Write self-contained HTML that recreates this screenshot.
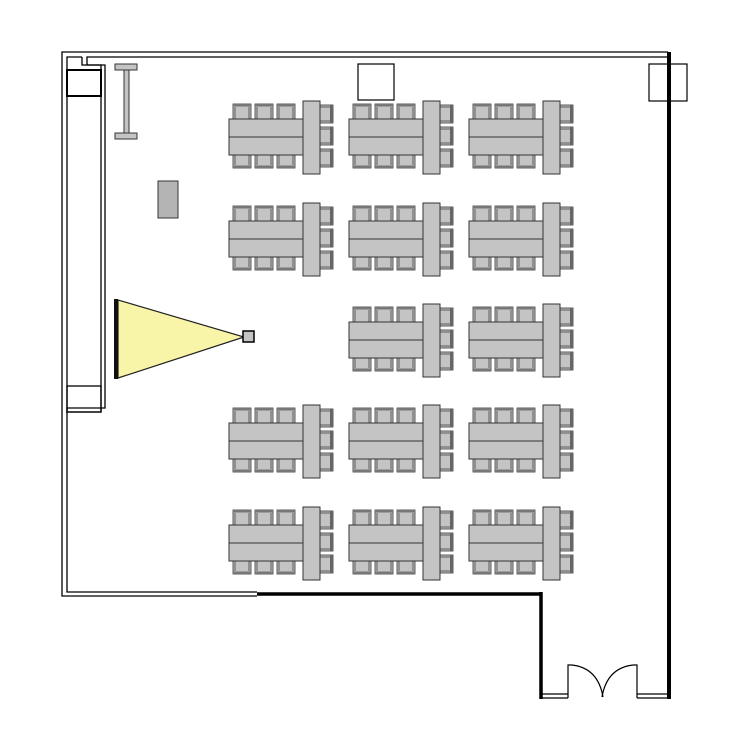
<!DOCTYPE html>
<html><head><style>html,body{margin:0;padding:0;background:#fff}</style></head><body>
<svg width="750" height="750" viewBox="0 0 750 750" xmlns="http://www.w3.org/2000/svg">
<defs>
<g id="ct">
 <rect x="0" y="0" width="18" height="15" fill="#c4c4c4" stroke="#333" stroke-width="0.8"/>
 <rect x="0" y="0" width="18" height="2.5" fill="#777"/>
 <line x1="2" y1="3" x2="2" y2="15" stroke="#444" stroke-width="0.8"/><line x1="16" y1="3" x2="16" y2="15" stroke="#444" stroke-width="0.8"/>
</g>
<g id="cb">
 <rect x="0" y="0" width="18" height="13" fill="#c4c4c4" stroke="#333" stroke-width="0.8"/>
 <rect x="0" y="10.5" width="18" height="2.5" fill="#777"/>
 <line x1="2" y1="0" x2="2" y2="10" stroke="#444" stroke-width="0.8"/><line x1="16" y1="0" x2="16" y2="10" stroke="#444" stroke-width="0.8"/>
</g>
<g id="cr">
 <rect x="0" y="0" width="13" height="18" fill="#c4c4c4" stroke="#333" stroke-width="0.8"/>
 <rect x="10" y="0" width="3" height="18" fill="#666"/>
 <line x1="0" y1="2" x2="10" y2="2" stroke="#444" stroke-width="0.8"/><line x1="0" y1="16" x2="10" y2="16" stroke="#444" stroke-width="0.8"/>
</g>
<g id="t">
 <use href="#ct" x="5" y="3"/><use href="#ct" x="27" y="3"/><use href="#ct" x="49" y="3"/>
 <use href="#cb" x="5" y="54"/><use href="#cb" x="27" y="54"/><use href="#cb" x="49" y="54"/>
 <use href="#cr" x="92" y="4"/><use href="#cr" x="92" y="26"/><use href="#cr" x="92" y="48"/>
 <rect x="1" y="18" width="74" height="36" fill="#c4c4c4" stroke="#333"/>
 <line x1="1" y1="36" x2="75" y2="36" stroke="#333"/>
 <rect x="75" y="0" width="17" height="73" fill="#c4c4c4" stroke="#333"/>
</g>
</defs>
<g fill="none" stroke="#000" stroke-width="1.3">
 <polyline points="668,52 62,52 62,596 257,596"/>
 <polyline points="668,57 87,57 87,65 105,65 105,408 67,408 67,592 257,592"/>
 <polyline points="82,57 67,57 67,412 101,412 101,65 82,65 82,57"/>
 <rect x="67" y="70" width="34" height="26" stroke-width="2"/>
 <rect x="67" y="386" width="34" height="26"/>
</g>
<line x1="257" y1="594" x2="542" y2="594" stroke="#000" stroke-width="3.5"/>
<line x1="541" y1="592" x2="541" y2="699" stroke="#000" stroke-width="3.5"/>
<line x1="669" y1="52" x2="669" y2="699" stroke="#000" stroke-width="4"/>
<g fill="none" stroke="#000" stroke-width="1.2">
 <line x1="542" y1="694" x2="568" y2="694"/><line x1="542" y1="698" x2="568" y2="698"/>
 <line x1="637" y1="694" x2="667" y2="694"/><line x1="637" y1="698" x2="667" y2="698"/>
 <polyline points="568,698 568,665 572,665"/><polyline points="637,698 637,665 633,665"/>
 <path d="M572,665 Q598,668 603,697"/><path d="M633,665 Q607,668 602,697"/>
</g>
<rect x="649" y="64" width="38" height="37" fill="none" stroke="#000" stroke-width="1.2"/>
<rect x="358" y="64" width="36" height="36" fill="#fff" stroke="#000" stroke-width="1.2"/>
<rect x="115" y="64" width="22" height="6" fill="#c4c4c4" stroke="#333"/>
<rect x="124" y="70" width="5" height="63" fill="#c4c4c4" stroke="#333"/>
<rect x="115" y="133" width="22" height="6" fill="#c4c4c4" stroke="#333"/>
<rect x="158" y="181" width="20" height="37" fill="#b4b4b4" stroke="#333"/>
<polygon points="118,300 118,378 244,337" fill="#f8f4a8" stroke="#222" stroke-width="1.2"/>
<rect x="114" y="299" width="4" height="80" fill="#111"/>
<rect x="243" y="331" width="11" height="11" fill="#c4c4c4" stroke="#000" stroke-width="1.5"/>
<use href="#t" x="228" y="101"/><use href="#t" x="348" y="101"/><use href="#t" x="468" y="101"/>
<use href="#t" x="228" y="203"/><use href="#t" x="348" y="203"/><use href="#t" x="468" y="203"/>
<use href="#t" x="348" y="304"/><use href="#t" x="468" y="304"/>
<use href="#t" x="228" y="405"/><use href="#t" x="348" y="405"/><use href="#t" x="468" y="405"/>
<use href="#t" x="228" y="507"/><use href="#t" x="348" y="507"/><use href="#t" x="468" y="507"/>
</svg>
</body></html>
